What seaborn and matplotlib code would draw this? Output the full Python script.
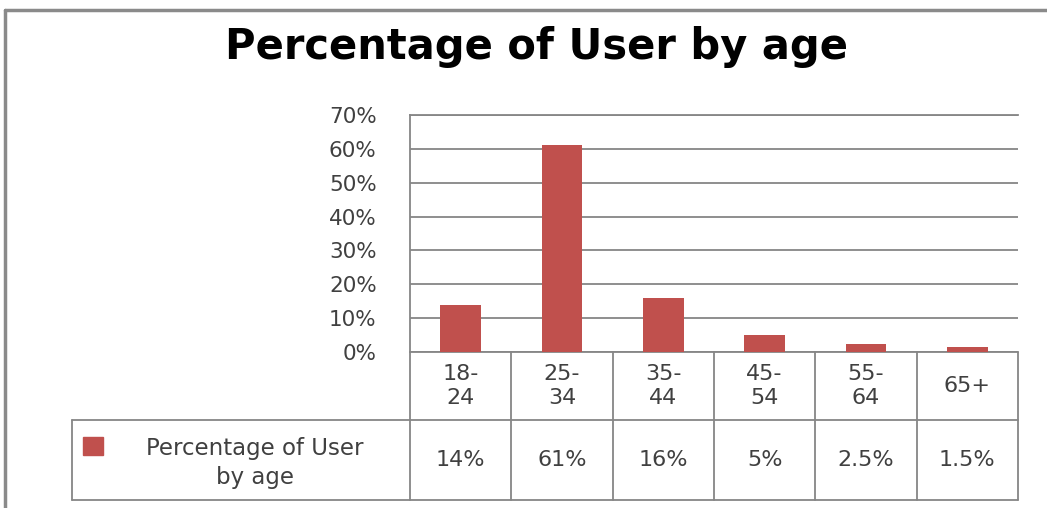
import matplotlib.pyplot as plt
import matplotlib.transforms as mtransforms
from matplotlib.lines import Line2D
from matplotlib.patches import Rectangle
import seaborn as sns
import pandas as pd

age_groups = ["18-\n24", "25-\n34", "35-\n44", "45-\n54", "55-\n64", "65+"]
user_pct = [14, 61, 16, 5, 2.5, 1.5]
pct_labels = ["14%", "61%", "16%", "5%", "2.5%", "1.5%"]
y_ticks = [0, 10, 20, 30, 40, 50, 60, 70]
series_name = "Percentage of User\nby age"
chart_title = "Percentage of User by age"

BAR_COLOR = "#C0504D"
GRID_COLOR = "#868686"
TEXT_COLOR = "#404040"
W, H = 1047, 508

sns.set_style("white")
plt.rcParams["font.family"] = ["DejaVu Sans"]

fig = plt.figure(figsize=(W / 100, H / 100), dpi=100)
ax = fig.add_axes([410 / W, 1 - 352 / H, 608 / W, 237 / H])

df = pd.DataFrame({"age": age_groups, "pct": user_pct})
sns.barplot(data=df, x="age", y="pct", color=BAR_COLOR, width=0.4,
            saturation=1, linewidth=0, ax=ax, zorder=3)

ax.set_xlim(-0.5, len(age_groups) - 0.5)
ax.set_ylim(0, 70)
ax.set_yticks(y_ticks)
ax.set_yticklabels([f"{t}%" for t in y_ticks], fontsize=15.5, color=TEXT_COLOR)
ax.set_xticks([])
ax.set_xlabel("")
ax.set_ylabel("")
ax.tick_params(axis="y", length=0, pad=24)
ax.set_axisbelow(True)
ax.grid(axis="y", color=GRID_COLOR, lw=1.3)
ax.grid(axis="x", visible=False)
for side in ["right", "bottom"]:
    ax.spines[side].set_visible(False)
for side in ["left", "top"]:
    ax.spines[side].set_color(GRID_COLOR)
    ax.spines[side].set_linewidth(1.3)

# data table under the plot
blend = mtransforms.blended_transform_factory(ax.transData, ax.transAxes)
row1, row2 = -68 / 237, -148 / 237
n = len(age_groups)
line_kw = dict(color=GRID_COLOR, lw=1.3, clip_on=False)
ax.plot([-0.5, n - 0.5], [0, 0], transform=blend, **line_kw)
for i in range(n + 1):
    ax.plot([i - 0.5, i - 0.5], [0, row2], transform=blend, **line_kw)
ax.plot([-0.556, 1], [row1, row1], transform=ax.transAxes, **line_kw)
ax.plot([-0.556, 1], [row2, row2], transform=ax.transAxes, **line_kw)
ax.plot([-0.556, -0.556], [row1, row2], transform=ax.transAxes, **line_kw)

for i, (lab, val) in enumerate(zip(age_groups, pct_labels)):
    ax.text(i, row1 / 2, lab, transform=blend, ha="center", va="center",
            fontsize=16, color=TEXT_COLOR, linespacing=1.2)
    ax.text(i, (row1 + row2) / 2, val, transform=blend, ha="center",
            va="center", fontsize=16, color=TEXT_COLOR)

ax.add_patch(Rectangle((-0.538, -0.435), 0.033, 0.076, transform=ax.transAxes,
                       color=BAR_COLOR, clip_on=False))
ax.text(-0.255, -0.468, series_name, transform=ax.transAxes, ha="center",
        va="center", fontsize=16.5, color=TEXT_COLOR, linespacing=1.3)

fig.text(0.512, 0.908, chart_title, ha="center", va="center", fontsize=30,
         fontweight="bold", color="black")

# outer chart frame
fig.add_artist(Line2D([5 / W, 5 / W], [0, 1 - 10 / H], color="#8A8A8A", lw=2.5))
fig.add_artist(Line2D([5 / W, 1], [1 - 10 / H, 1 - 10 / H], color="#8A8A8A", lw=2.5))

fig.savefig("out.png", dpi=100)
